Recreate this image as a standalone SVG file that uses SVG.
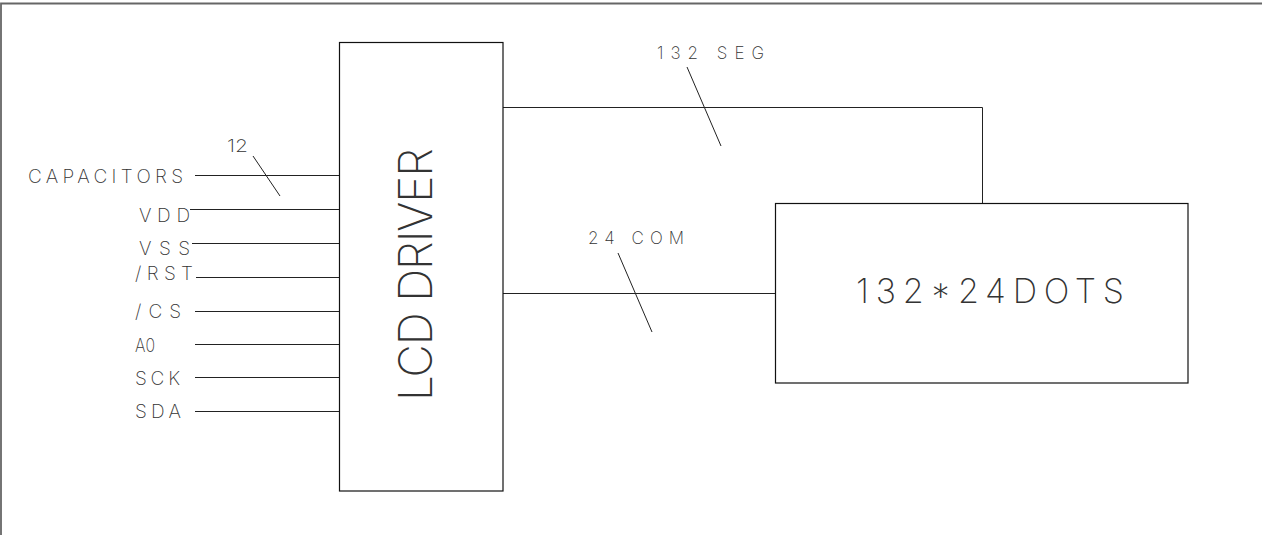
<svg xmlns="http://www.w3.org/2000/svg" width="1262" height="535" viewBox="0 0 1262 535">
<style>
.ln{stroke:#222;stroke-width:1;fill:none}
.bx{stroke:#111;stroke-width:1.2;fill:#fff}
.frame{stroke:#666;stroke-width:1.8;fill:none}
text{font-family:Inter,"DejaVu Sans","Liberation Sans",sans-serif;font-weight:200;fill:#333}
.pin{font-size:19px}
.lbl{font-size:17px}
</style>
<rect width="1262" height="535" fill="#fff"/>
<path class="frame" d="M1,535 V3.5 H1262"/>
<g id="connectors">
<line class="ln" x1="195" y1="175.5" x2="339" y2="175.5"/>
<line class="ln" x1="190" y1="209.5" x2="339" y2="209.5"/>
<line class="ln" x1="192" y1="243.5" x2="339" y2="243.5"/>
<line class="ln" x1="196" y1="277.5" x2="339" y2="277.5"/>
<line class="ln" x1="195" y1="311.5" x2="339" y2="311.5"/>
<line class="ln" x1="195" y1="344.5" x2="339" y2="344.5"/>
<line class="ln" x1="195" y1="377.5" x2="339" y2="377.5"/>
<line class="ln" x1="195" y1="411.5" x2="339" y2="411.5"/>
<line class="ln" x1="253" y1="156" x2="280" y2="196"/>
<path class="ln" d="M503,107.5 H982.5 V203"/>
<line class="ln" x1="687" y1="67" x2="721" y2="146"/>
<line class="ln" x1="503" y1="293.5" x2="775" y2="293.5"/>
<line class="ln" x1="618" y1="253" x2="652" y2="332"/>
</g>
<g id="labels">
<text class="pin" x="28" y="183" textLength="155" lengthAdjust="spacing">CAPACITORS</text>
<text class="pin" x="139" y="222" textLength="51" lengthAdjust="spacing">VDD</text>
<text class="pin" x="139" y="255" textLength="51" lengthAdjust="spacing">VSS</text>
<text class="pin" x="135" y="280" textLength="58" lengthAdjust="spacing">/RST</text>
<text class="pin" x="135" y="318" textLength="46" lengthAdjust="spacing">/CS</text>
<text class="pin" x="135" y="352" textLength="20" lengthAdjust="spacingAndGlyphs">A0</text>
<text class="pin" x="135" y="385" textLength="45" lengthAdjust="spacing">SCK</text>
<text class="pin" x="135" y="418" textLength="46" lengthAdjust="spacing">SDA</text>
<text class="lbl" x="227" y="152" textLength="21" lengthAdjust="spacingAndGlyphs">12</text>
<text class="lbl" x="657" y="59" textLength="107" lengthAdjust="spacing">132 SEG</text>
<text class="lbl" x="588" y="244" textLength="96" lengthAdjust="spacing">24 COM</text>
</g>
<g id="lcd-driver">
<rect class="bx" x="339.5" y="42.5" width="163.5" height="448.5"/>
<text x="0" y="0" font-size="46" transform="translate(432,401) rotate(-90)" textLength="253" lengthAdjust="spacing">LCD DRIVER</text>
</g>
<g id="display">
<rect class="bx" x="775.5" y="203.5" width="412.5" height="179.5"/>
<text x="856" y="303" font-size="34" textLength="268" lengthAdjust="spacing">132*24DOTS</text>
</g>
</svg>
